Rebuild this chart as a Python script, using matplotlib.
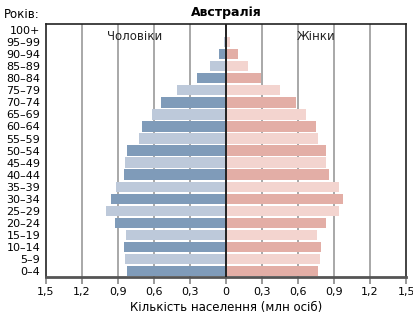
import matplotlib
matplotlib.use("Agg")
import matplotlib.pyplot as plt
from matplotlib import font_manager

# вікові групи знизу догори
groups = ["0–4", "5–9", "10–14", "15–19", "20–24", "25–29", "30–34", "35–39",
          "40–44", "45–49", "50–54", "55–59", "60–64", "65–69", "70–74",
          "75–79", "80–84", "85–89", "90–94", "95–99", "100+"]
# млн осіб
males = [0.825, 0.84, 0.85, 0.835, 0.925, 1.0, 0.96, 0.92, 0.85, 0.84, 0.825,
         0.725, 0.70, 0.62, 0.54, 0.41, 0.24, 0.133, 0.058, 0.015, 0.01]
females = [0.77, 0.78, 0.79, 0.76, 0.83, 0.94, 0.97, 0.94, 0.86, 0.83, 0.83,
           0.77, 0.75, 0.67, 0.58, 0.45, 0.29, 0.18, 0.097, 0.03, 0.005]
xticks = [-1.5, -1.2, -0.9, -0.6, -0.3, 0, 0.3, 0.6, 0.9, 1.2, 1.5]
xticklabels = ["1,5", "1,2", "0,9", "0,6", "0,3", "0", "0,3", "0,6", "0,9", "1,2", "1,5"]

names = {f.name for f in font_manager.fontManager.ttflist}
fam = ["Liberation Sans Narrow"] if "Liberation Sans Narrow" in names else []
plt.rcParams["font.family"] = fam + ["DejaVu Sans"]

m_dark, m_light = "#7f9bb9", "#bdc9da"
f_dark, f_light = "#e3aea6", "#f3d4cf"

fig = plt.figure(figsize=(4.14, 3.2), dpi=100)
ax = fig.add_axes([0.111, 0.134, 0.870, 0.791])

y = list(range(len(groups)))
mc = [m_dark if i % 2 == 0 else m_light for i in y]
fc = [f_dark if i % 2 == 0 else f_light for i in y]
ax.barh(y, [-v for v in males], height=0.86, color=mc, zorder=2)
ax.barh(y, females, height=0.86, color=fc, zorder=2)

for t in xticks:
    if t != 0 and abs(t) != 1.5:
        ax.axvline(t, color="#a8a8a8", lw=1.4, zorder=1)
ax.axvline(0, color="#222222", lw=1.4, zorder=3)

ax.set_xlim(-1.5, 1.5)
ax.set_ylim(-0.5, len(groups) - 0.5)
ax.set_xticks(xticks)
ax.set_xticklabels(xticklabels, fontsize=8)
ax.set_yticks(y)
ax.set_yticklabels(groups, fontsize=8)
ax.tick_params(axis="y", length=0, pad=4)
ax.tick_params(axis="x", length=5, width=1.2, color="#888888", pad=2)

for s in ["top", "right", "left"]:
    ax.spines[s].set_color("#222222")
    ax.spines[s].set_linewidth(1.2)
ax.spines["bottom"].set_color("#555555")
ax.spines["bottom"].set_linewidth(2)

ax.text(-0.76, 19.5, "Чоловіки", fontsize=8.5, ha="center", va="center", color="#222222")
ax.text(0.75, 19.5, "Жінки", fontsize=8.5, ha="center", va="center", color="#222222")

fig.text(0.546, 0.962, "Австралія", fontsize=9, fontweight="bold", ha="center", va="center")
fig.text(0.01, 0.955, "Років:", fontsize=8.5, ha="left", va="center")
ax.set_xlabel("Кількість населення (млн осіб)", fontsize=8.5, labelpad=3)

fig.savefig("out.png", dpi=100)
